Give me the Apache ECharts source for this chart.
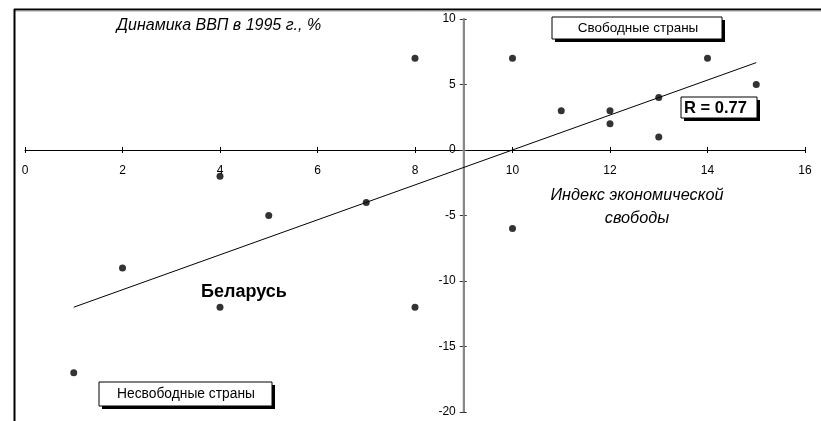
<!DOCTYPE html>
<html><head><meta charset="utf-8">
<script src="https://cdn.jsdelivr.net/npm/echarts@6/dist/echarts.min.js"></script>
<style>html,body{margin:0;padding:0;background:#fff}#c{width:821px;height:421px}</style>
</head><body><div id="c"></div>
<script>
var freedomIndex = [1, 2, 4, 4, 5, 7, 8, 8, 10, 10, 11, 12, 12, 13, 13, 14, 15];
var gdpGrowth    = [-17, -9, -2, -12, -5, -4, 7, -12, 7, -6, 3, 3, 2, 4, 1, 7, 5];
var trendX = [1, 15];
var trendY = [-12, 6.67];
var xTicks = [0, 2, 4, 6, 8, 10, 12, 14, 16];
var yTicks = [-20, -15, -10, -5, 0, 5, 10];

var points = freedomIndex.map(function (x, i) { return [x, gdpGrowth[i]]; });
var trend = trendX.map(function (x, i) { return [x, trendY[i]]; });

var FONT = '"Liberation Sans", Arial, sans-serif';
var chart = echarts.init(document.getElementById('c'), null, {renderer: 'canvas'});

function box(x, y, w, h, text, style) {
  return {
    type: 'group', children: [
      {type: 'rect', shape: {x: x + 3, y: y + 3, width: w, height: h}, style: {fill: '#000'}},
      {type: 'rect', shape: {x: x, y: y, width: w, height: h}, style: {fill: '#fff', stroke: '#000', lineWidth: 1}},
      {type: 'text', style: Object.assign({text: text, fill: '#000', fontFamily: FONT}, style)}
    ]
  };
}

var W = 821, H = 421;
var gridLeft = 25, gridRight = 16, gridTop = 19, gridBottom = 9;
var plotW = W - gridLeft - gridRight, plotH = H - gridTop - gridBottom;
var xMin = xTicks[0], xMax = xTicks[xTicks.length - 1];
var yMin = yTicks[0], yMax = yTicks[yTicks.length - 1];
var yCross = 9;   // y axis crosses the x axis at x = 9
var yOffset = -plotW * (yCross - xMin) / (xMax - xMin);
var xOffset = -plotH * (0 - yMin) / (yMax - yMin);
var yAxisX = gridLeft - yOffset;

var gridBase = {left: gridLeft, right: gridRight, top: gridTop, bottom: gridBottom, containLabel: false, outerBoundsMode: 'none'};
var xBase = {type: 'value', min: xMin, max: xMax, interval: 2, splitLine: {show: false}};
var yBase = {type: 'value', min: yMin, max: yMax, interval: 5, splitLine: {show: false}, position: 'left', offset: yOffset};
var yLine = {show: true, lineStyle: {color: '#888', width: 2}};

chart.setOption({
  animation: false,
  grid: [Object.assign({}, gridBase), Object.assign({}, gridBase)],
  xAxis: [
    Object.assign({}, xBase, {
      gridIndex: 0,
      axisLine: {onZero: true, lineStyle: {color: '#000', width: 1}},
      axisTick: {show: true, length: 3, lineStyle: {color: '#000'}},
      axisLabel: {show: false}
    }),
    Object.assign({}, xBase, {
      gridIndex: 1, position: 'bottom', offset: xOffset,
      axisLine: {onZero: false, show: false},
      axisTick: {show: true, inside: true, length: 3, lineStyle: {color: '#000'}},
      axisLabel: {show: true, color: '#000', fontSize: 12, fontFamily: FONT, margin: 15}
    })
  ],
  yAxis: [
    Object.assign({}, yBase, {
      gridIndex: 0,
      axisLine: yLine,
      axisTick: {show: true, length: 4, lineStyle: {color: '#333'}},
      axisLabel: {color: '#000', fontSize: 12, fontFamily: FONT, margin: 8}
    }),
    Object.assign({}, yBase, {
      gridIndex: 1,
      axisLine: yLine,
      axisTick: {show: true, inside: true, length: 3, lineStyle: {color: '#333'}},
      axisLabel: {show: false}
    })
  ],
  series: [
    {
      type: 'line', data: trend, xAxisIndex: 0, yAxisIndex: 0,
      showSymbol: false, symbol: 'none',
      lineStyle: {color: '#000', width: 1}, z: 2
    },
    {
      type: 'scatter', data: points, xAxisIndex: 0, yAxisIndex: 0,
      symbol: 'circle', symbolSize: 7, itemStyle: {color: '#000'}, z: 3
    }
  ],
  graphic: [
    {type: 'line', z: 1, shape: {x1: yAxisX, y1: gridTop, x2: yAxisX, y2: H - gridBottom}, style: {stroke: '#888', lineWidth: 2}},
    {type: 'line', shape: {x1: 14, y1: 9.5, x2: 821, y2: 9.5}, style: {stroke: '#000', lineWidth: 2}},
    {type: 'line', shape: {x1: 14, y1: 11, x2: 821, y2: 11}, style: {stroke: '#999', lineWidth: 1}},
    {type: 'line', shape: {x1: 14.5, y1: 9, x2: 14.5, y2: 421}, style: {stroke: '#000', lineWidth: 2}},
    {type: 'text', x: 219, y: 26, style: {text: 'Динамика ВВП в 1995 г., %', fontFamily: FONT, fontStyle: 'italic', fontSize: 16, fill: '#000', align: 'center', verticalAlign: 'middle'}},
    box(552, 17, 170, 22, 'Свободные страны', {x: 638, y: 28, align: 'center', verticalAlign: 'middle', fontSize: 13.5}),
    box(681, 97, 76, 21, 'R = 0.77', {x: 684, y: 108, align: 'left', verticalAlign: 'middle', fontSize: 16.5, fontWeight: 'bold'}),
    box(99, 382, 173, 24, 'Несвободные страны', {x: 186, y: 394, align: 'center', verticalAlign: 'middle', fontSize: 13.8}),
    {type: 'text', x: 637, y: 195, style: {text: 'Индекс экономической', fontFamily: FONT, fontStyle: 'italic', fontSize: 16.3, fill: '#000', align: 'center', verticalAlign: 'middle'}},
    {type: 'text', x: 637, y: 218, style: {text: 'свободы', fontFamily: FONT, fontStyle: 'italic', fontSize: 16.3, fill: '#000', align: 'center', verticalAlign: 'middle'}},
    {type: 'text', x: 244, y: 292, style: {text: 'Беларусь', fontFamily: FONT, fontWeight: 'bold', fontSize: 18, fill: '#000', align: 'center', verticalAlign: 'middle'}}
  ]
});
</script></body></html>
